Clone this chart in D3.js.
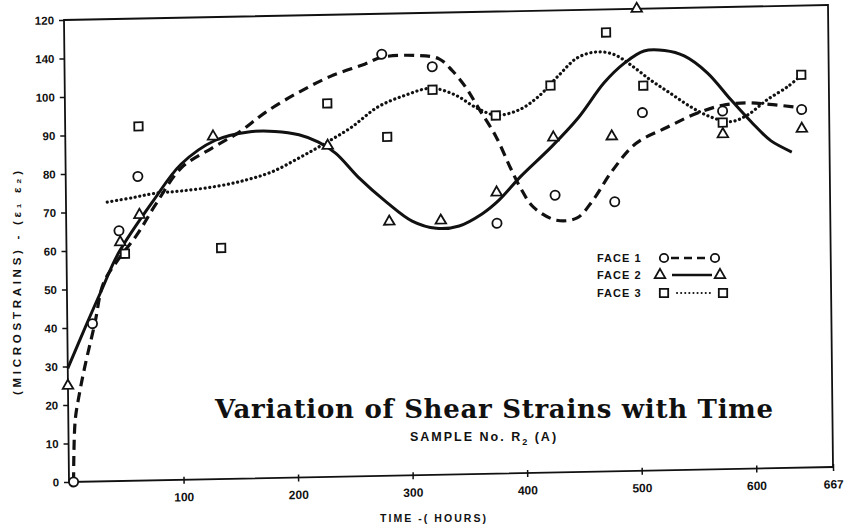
<!DOCTYPE html>
<html><head><meta charset="utf-8">
<script src="https://cdn.jsdelivr.net/npm/d3@7"></script>
<style>
html,body{margin:0;padding:0;background:#fff;}
svg{display:block;}
text{fill:#111;}
</style></head>
<body>
<svg id="chart" width="865" height="528"></svg>
<script>
// ---------- data ----------
const face1Time = [4, 22, 46, 63, 277, 321, 376, 427, 479, 504, 574, 643];
const face1Val  = [0, 41, 65, 79, 109.5, 106, 65, 72, 70, 93, 93, 93];

const face2Time = [0, 47, 64, 129, 229, 282, 327, 376, 426, 477, 500, 574, 643];
const face2Val  = [25, 62, 69, 89, 86, 66, 66, 73, 87, 87, 120, 87, 88];

const face3Time = [51, 64, 135, 229, 281, 321, 376, 424, 473, 505, 574, 643];
const face3Val  = [59, 92, 60, 97, 88, 100, 93, 100.5, 114, 100, 90, 102];

// fitted curves as drawn on the chart
const face1CurveT = [4, 6, 10, 15, 24, 32, 45, 62, 78, 101, 128, 152, 175, 204, 232, 262, 277, 307, 327, 338, 350, 361, 376, 388, 397, 408, 428, 446, 460, 477, 498, 525, 551, 574, 595, 615, 641];
const face1CurveV = [0, 16, 23, 30, 41, 51.5, 57.5, 64, 71.5, 81, 86, 90, 95, 100, 104, 107, 108.7, 109, 108, 105, 100.5, 95, 87.5, 79.5, 74, 69, 65.5, 66, 70.5, 78, 85, 89, 92.5, 94.5, 95, 94.5, 93.5];

const face2CurveT = [0, 17, 30, 45, 76, 101, 131, 160, 183, 204, 221, 236, 256, 280, 302, 323, 343, 363, 378, 397, 424, 448, 471, 489, 506, 524, 541, 561, 581, 599, 616, 634];
const face2CurveV = [29.5, 41, 49.5, 59, 72.5, 82, 88, 90, 90, 89, 87, 84, 77.5, 71, 66, 64, 64.5, 67.5, 71, 77, 84.5, 92, 101, 106, 109, 109, 107.5, 103, 96, 90, 85, 82];

const face3CurveT = [36, 58, 77, 101, 131, 157, 180, 204, 227, 250, 273, 297, 320, 341, 358, 376, 396, 413, 430, 448, 465, 480, 494, 511, 528, 546, 563, 581, 596, 613, 631, 642];
const face3CurveV = [72.5, 73.5, 74.5, 75, 76, 77.5, 79.5, 83, 86.7, 90.7, 95.8, 98.7, 100.4, 98.5, 95.3, 93.1, 94.3, 97.6, 102.7, 107.6, 109, 108.2, 105.5, 101.5, 98, 94.3, 91.6, 90.2, 91.9, 95.7, 99, 101.6];

const yTickValues = [0, 10, 20, 30, 40, 50, 60, 70, 80, 90, 100, 110, 120];
const yTickLabels = ["0", "10", "20", "30", "40", "50", "60", "70", "80", "90", "100", "140", "120"];
const xTickValues = [100, 200, 300, 400, 500, 600, 667];
const xTickLabels = ["100", "200", "300", "400", "500", "600", "667"];

const legendLabels = ["FACE 1", "FACE 2", "FACE 3"];

// ---------- drawing ----------
const svg = d3.select("#chart");
const W = 764, H = 462;
const x = d3.scaleLinear().domain([0, 667]).range([0, W]);
const y = d3.scaleLinear().domain([0, 120]).range([H, 0]);

// slight scan skew of the original figure
const g = svg.append("g").attr("transform", `matrix(1, ${-15/764}, ${5/462}, 1, 64, 20)`);

const sansBold = "'Liberation Sans', Arial, sans-serif";

// frame
g.append("rect").attr("x", 0).attr("y", 0).attr("width", W).attr("height", H)
  .attr("fill", "none").attr("stroke", "#111").attr("stroke-width", 1.8);

// y axis
const yAxis = d3.axisLeft(y).tickValues(yTickValues)
  .tickFormat((d, i) => yTickLabels[i]).tickSize(5).tickPadding(5);
const ya = g.append("g").call(yAxis);
ya.select(".domain").remove();
ya.selectAll("line").attr("stroke", "#111").attr("stroke-width", 1.5);
ya.selectAll("text").attr("font-family", sansBold).attr("font-weight", "bold")
  .attr("font-size", 11.5).attr("fill", "#111");

// x axis
const xAxis = d3.axisBottom(x).tickValues(xTickValues)
  .tickFormat((d, i) => xTickLabels[i]).tickSize(4).tickPadding(9);
const xa = g.append("g").attr("transform", `translate(0,${H})`).call(xAxis);
xa.select(".domain").remove();
xa.selectAll("line").attr("stroke", "#111").attr("stroke-width", 1.5).attr("y1", -3);
xa.selectAll("text").attr("font-family", sansBold).attr("font-weight", "bold")
  .attr("font-size", 12).attr("fill", "#111");

// curves
const line = d3.line().x(d => x(d[0])).y(d => y(d[1])).curve(d3.curveCatmullRom.alpha(0.5));
const zip = (a, b) => a.map((v, i) => [v, b[i]]);

g.append("path").datum(zip(face1CurveT, face1CurveV)).attr("d", line)
  .attr("fill", "none").attr("stroke", "#111").attr("stroke-width", 3.2)
  .attr("stroke-dasharray", "10,6");
g.append("path").datum(zip(face2CurveT, face2CurveV)).attr("d", line)
  .attr("fill", "none").attr("stroke", "#111").attr("stroke-width", 3);
g.append("path").datum(zip(face3CurveT, face3CurveV)).attr("d", line)
  .attr("fill", "none").attr("stroke", "#111").attr("stroke-width", 3.2)
  .attr("stroke-linecap", "round").attr("stroke-dasharray", "0.1,4.6");

// markers
const tri = d3.symbol().type(d3.symbolTriangle).size(48);
const sq = d3.symbol().type(d3.symbolSquare).size(70);

function markerStyle(sel) {
  return sel.attr("fill", "#fff").attr("stroke", "#111").attr("stroke-width", 1.8);
}

markerStyle(g.append("g").selectAll("circle").data(zip(face1Time, face1Val)).join("circle")
  .attr("cx", d => x(d[0])).attr("cy", d => y(d[1])).attr("r", 4.6));
markerStyle(g.append("g").selectAll("path").data(zip(face2Time, face2Val)).join("path")
  .attr("d", tri).attr("transform", d => `translate(${x(d[0])},${y(d[1])})`));
markerStyle(g.append("g").selectAll("path").data(zip(face3Time, face3Val)).join("path")
  .attr("d", sq).attr("transform", d => `translate(${x(d[0])},${y(d[1])})`));

// axis titles
svg.append("text").attr("transform", "translate(21,283) rotate(-90)")
  .attr("text-anchor", "middle").attr("font-family", sansBold).attr("font-weight", "bold")
  .attr("font-size", 11.5).attr("textLength", 224).attr("lengthAdjust", "spacing")
  .text("(MICROSTRAINS) - (ε₁ ε₂)");

svg.append("text").attr("x", 380).attr("y", 522)
  .attr("font-family", sansBold).attr("font-weight", "bold")
  .attr("font-size", 10.5).attr("textLength", 106).attr("lengthAdjust", "spacing")
  .text("TIME  -( HOURS)");

// title
svg.append("text").attr("x", 215).attr("y", 418)
  .attr("font-family", "'DejaVu Serif', 'Liberation Serif', serif").attr("font-weight", "bold")
  .attr("font-size", 26).attr("textLength", 558).attr("lengthAdjust", "spacing")
  .text("Variation  of  Shear  Strains  with  Time");

const sub = svg.append("text").attr("x", 410).attr("y", 441)
  .attr("font-family", sansBold).attr("font-weight", "bold").attr("font-size", 12.5)
  .attr("letter-spacing", 2);
sub.append("tspan").text("SAMPLE  No.  R");
sub.append("tspan").attr("font-size", 9).attr("dy", 4).text("2");
sub.append("tspan").attr("dy", -4).text(" (A)");

// legend
const legY = [258, 275, 293];
const leg = svg.append("g");
legendLabels.forEach((lab, i) => {
  leg.append("text").attr("x", 597).attr("y", legY[i] + 4)
    .attr("font-family", sansBold).attr("font-weight", "bold").attr("font-size", 11)
    .attr("letter-spacing", 1).text(lab);
});
// face 1 legend
leg.append("line").attr("x1", 671).attr("x2", 709).attr("y1", legY[0]).attr("y2", legY[0])
  .attr("stroke", "#111").attr("stroke-width", 2.6).attr("stroke-dasharray", "8,5");
markerStyle(leg.append("circle").attr("cx", 664).attr("cy", legY[0]).attr("r", 4.2));
markerStyle(leg.append("circle").attr("cx", 715).attr("cy", legY[0]).attr("r", 4.2));
// face 2 legend
leg.append("line").attr("x1", 672).attr("x2", 712).attr("y1", legY[1]).attr("y2", legY[1])
  .attr("stroke", "#111").attr("stroke-width", 2.6);
markerStyle(leg.append("path").attr("d", tri).attr("transform", `translate(660,${legY[1]})`));
markerStyle(leg.append("path").attr("d", tri).attr("transform", `translate(720,${legY[1]})`));
// face 3 legend
leg.append("line").attr("x1", 677).attr("x2", 712).attr("y1", legY[2]).attr("y2", legY[2])
  .attr("stroke", "#111").attr("stroke-width", 2).attr("stroke-linecap", "round")
  .attr("stroke-dasharray", "0.1,4");
markerStyle(leg.append("path").attr("d", sq).attr("transform", `translate(664,${legY[2]})`));
markerStyle(leg.append("path").attr("d", sq).attr("transform", `translate(723,${legY[2]})`));
</script>
</body></html>
